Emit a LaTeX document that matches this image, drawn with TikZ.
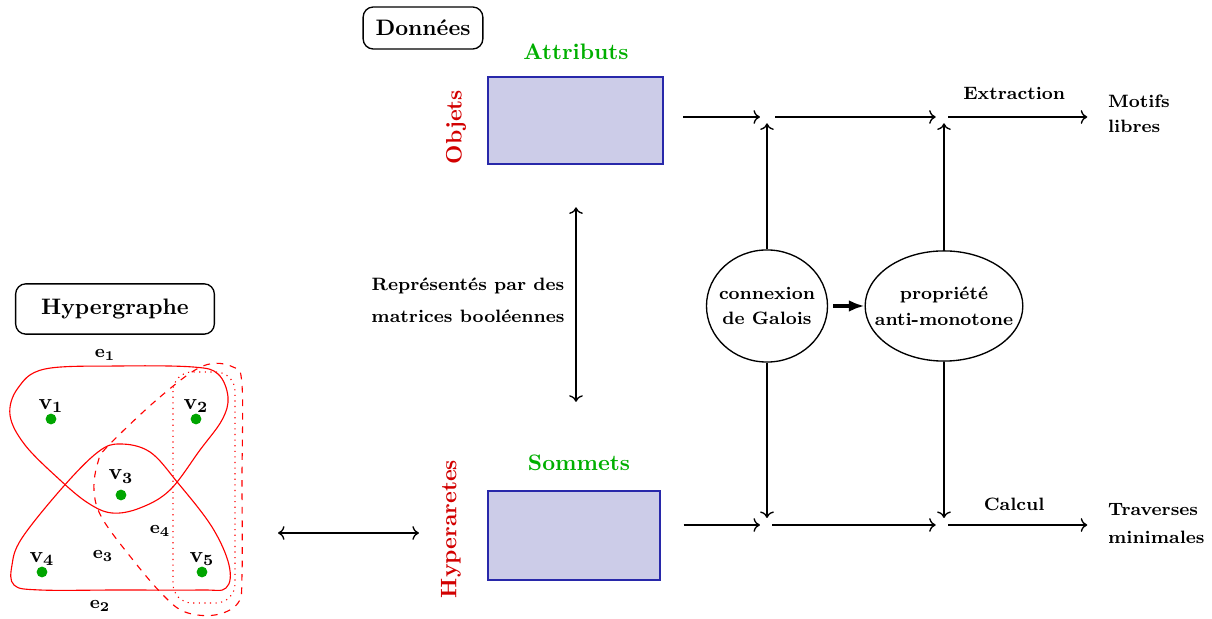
\documentclass[tikz,border=0pt]{standalone}
\usepackage{amsmath,amssymb}
\usepackage{xcolor}
\usepackage{tikz}
\usetikzlibrary{arrows.meta,positioning,fit,shapes.geometric}

\definecolor{matfill}{RGB}{204,204,232}
\definecolor{matline}{RGB}{40,40,170}
\definecolor{attgreen}{RGB}{0,175,0}
\definecolor{objred}{RGB}{210,0,0}
\definecolor{dotgreen}{RGB}{0,165,0}

\begin{document}
\begin{tikzpicture}[
    x=0.0157cm, y=-0.0157cm,
    font=\bfseries,
    line width=0.6pt,
    titlebox/.style={
        rectangle,
        draw,
        rounded corners=0.16cm,
        inner sep=0pt
    },
    matbox/.style={
        rectangle,
        draw=matline,
        fill=matfill,
        inner sep=0pt
    },
    head/.style={text=attgreen},
    side/.style={text=objred, rotate=90},
    oval/.style={
        ellipse,
        draw,
        inner xsep=-6pt,
        inner ysep=0pt,
        font=\footnotesize\bfseries,
        align=center
    },
    txt/.style={font=\footnotesize\bfseries, align=left},
    vtx/.style={circle, fill=dotgreen, inner sep=0pt, minimum size=0.17cm},
    every label/.style={yshift=-3.5pt},
    edge/.style={red, line width=0.5pt},
    elabel/.style={font=\footnotesize},
    arrow/.style={->},
    lbl/.style={font=\footnotesize\bfseries}
]
\useasboundingbox (0,0) rectangle (1212,619);

% Data side
\node[titlebox, minimum width=1.88cm, minimum height=0.66cm] (data) at (423,28) {Donn\'ees};
\node[matbox, fit={(488,77) (663,164)}] (mtop) {};
\node[head] (attr) at (576,52) {Attributs};
\node[side] (obj) at (456,127) {Objets};

\node[matbox, fit={(488,491) (660,580)}] (mbot) {};
\node[head] (somm) at (579,463) {Sommets};
\node[side] (hyp) at (451,529) {Hyperaretes};

\node[txt, align=center] (repr) at (468,300) {Repr\'esent\'es par des\\[5pt]matrices bool\'eennes};
\draw[<->, shorten <=0.67cm, shorten >=1.4cm] (mtop.south -| 576,0) -- (576,491);

% Hypergraph
\node[titlebox, minimum width=3.12cm, minimum height=0.79cm] (hg) at (115,309) {Hypergraphe};

\node[vtx, label={above:$\mathbf{v_1}$}] (v1) at (51,419) {};
\node[vtx, label={above:$\mathbf{v_2}$}] (v2) at (196,419) {};
\node[vtx, label={[yshift=2.5pt]above:$\mathbf{v_3}$}] (v3) at (121,495) {};
\node[vtx, label={above:$\mathbf{v_4}$}] (v4) at (42,572) {};
\node[vtx, label={above:$\mathbf{v_5}$}] (v5) at (202,572) {};

\draw[edge] plot[smooth cycle, tension=0.6] coordinates {(45,369) (120,366) (193,367) (218,374) (228,397) (222,420) (200,450) (170,490) (140,508) (112,513) (88,503) (60,480) (25,445) (10,415) (18,388)};
\draw[edge] plot[smooth cycle, tension=0.6] coordinates {(120,444) (150,452) (178,483) (212,527) (229,565) (226,588) (200,590) (120,590) (40,590) (14,585) (12,565) (22,538) (63,487) (98,452)};
\draw[edge, dashed] plot[smooth cycle, tension=0.6] coordinates {(108,446) (160,397) (203,366) (233,367) (242,385) (242,480) (242,575) (238,603) (215,615) (185,612) (163,595) (133,560) (102,518) (94,490) (98,462)};
\draw[edge, dotted, rounded corners=0.3cm] (173,372) rectangle (235,603);

\node[elabel] (e1) at (105,355) {$\mathbf{e_1}$};
\node[elabel] (e2) at (100,606) {$\mathbf{e_2}$};
\node[elabel] (e3) at (103,556) {$\mathbf{e_3}$};
\node[elabel] (e4) at (160,531) {$\mathbf{e_4}$};

\coordinate (hgE) at (278,533);
\draw[<->, shorten >=0.22cm] (hgE) -- (hgE -| hyp.north);

% Galois part
\node[oval, minimum width=1.9cm, minimum height=1.76cm] (gal) at (767,306) {connexion\\[2pt]de Galois};
\node[oval, minimum width=2.36cm, minimum height=1.73cm] (prop) at (944,306) {propri\'et\'e\\[2pt]anti-monotone};

\coordinate (ja) at (767,117);
\coordinate (jb) at (944,117);
\coordinate (jc) at (767,525);
\coordinate (jd) at (944,525);

\node[txt, anchor=west] (motifs) at (1100,114) {Motifs\\[1.5pt]libres};
\node[txt, anchor=west] (trav) at (1100,524) {Traverses\\[3pt]minimales};

% Main arrows
\draw[arrow, shorten <=0.31cm, shorten >=0.11cm] (mtop.east |- ja) -- (ja);
\draw[arrow, shorten <=0.13cm, shorten >=0.13cm] (ja) -- (jb);
\draw[arrow, shorten <=0.07cm, shorten >=0.2cm] (jb) -- node[lbl, above=0.15cm, pos=0.45] {Extraction} (jb -| motifs.west);

\draw[arrow, shorten <=0.36cm, shorten >=0.11cm] (mbot.east |- jc) -- (jc);
\draw[arrow, shorten <=0.08cm, shorten >=0.13cm] (jc) -- (jd);
\draw[arrow, shorten <=0.07cm, shorten >=0.2cm] (jd) -- node[lbl, above=0.1cm, pos=0.45] {Calcul} (jd -| trav.west);

\draw[arrow, shorten >=0.1cm] (gal.north) -- (ja);
\draw[arrow, shorten >=0.1cm] (prop.north) -- (jb);
\draw[arrow, shorten >=0.11cm] (gal.south) -- (jc);
\draw[arrow, shorten >=0.11cm] (prop.south) -- (jd);

\draw[-{Latex[length=7pt]}, line width=1.5pt, shorten <=0.08cm] (gal) -- (prop);

\end{tikzpicture}
\end{document}
